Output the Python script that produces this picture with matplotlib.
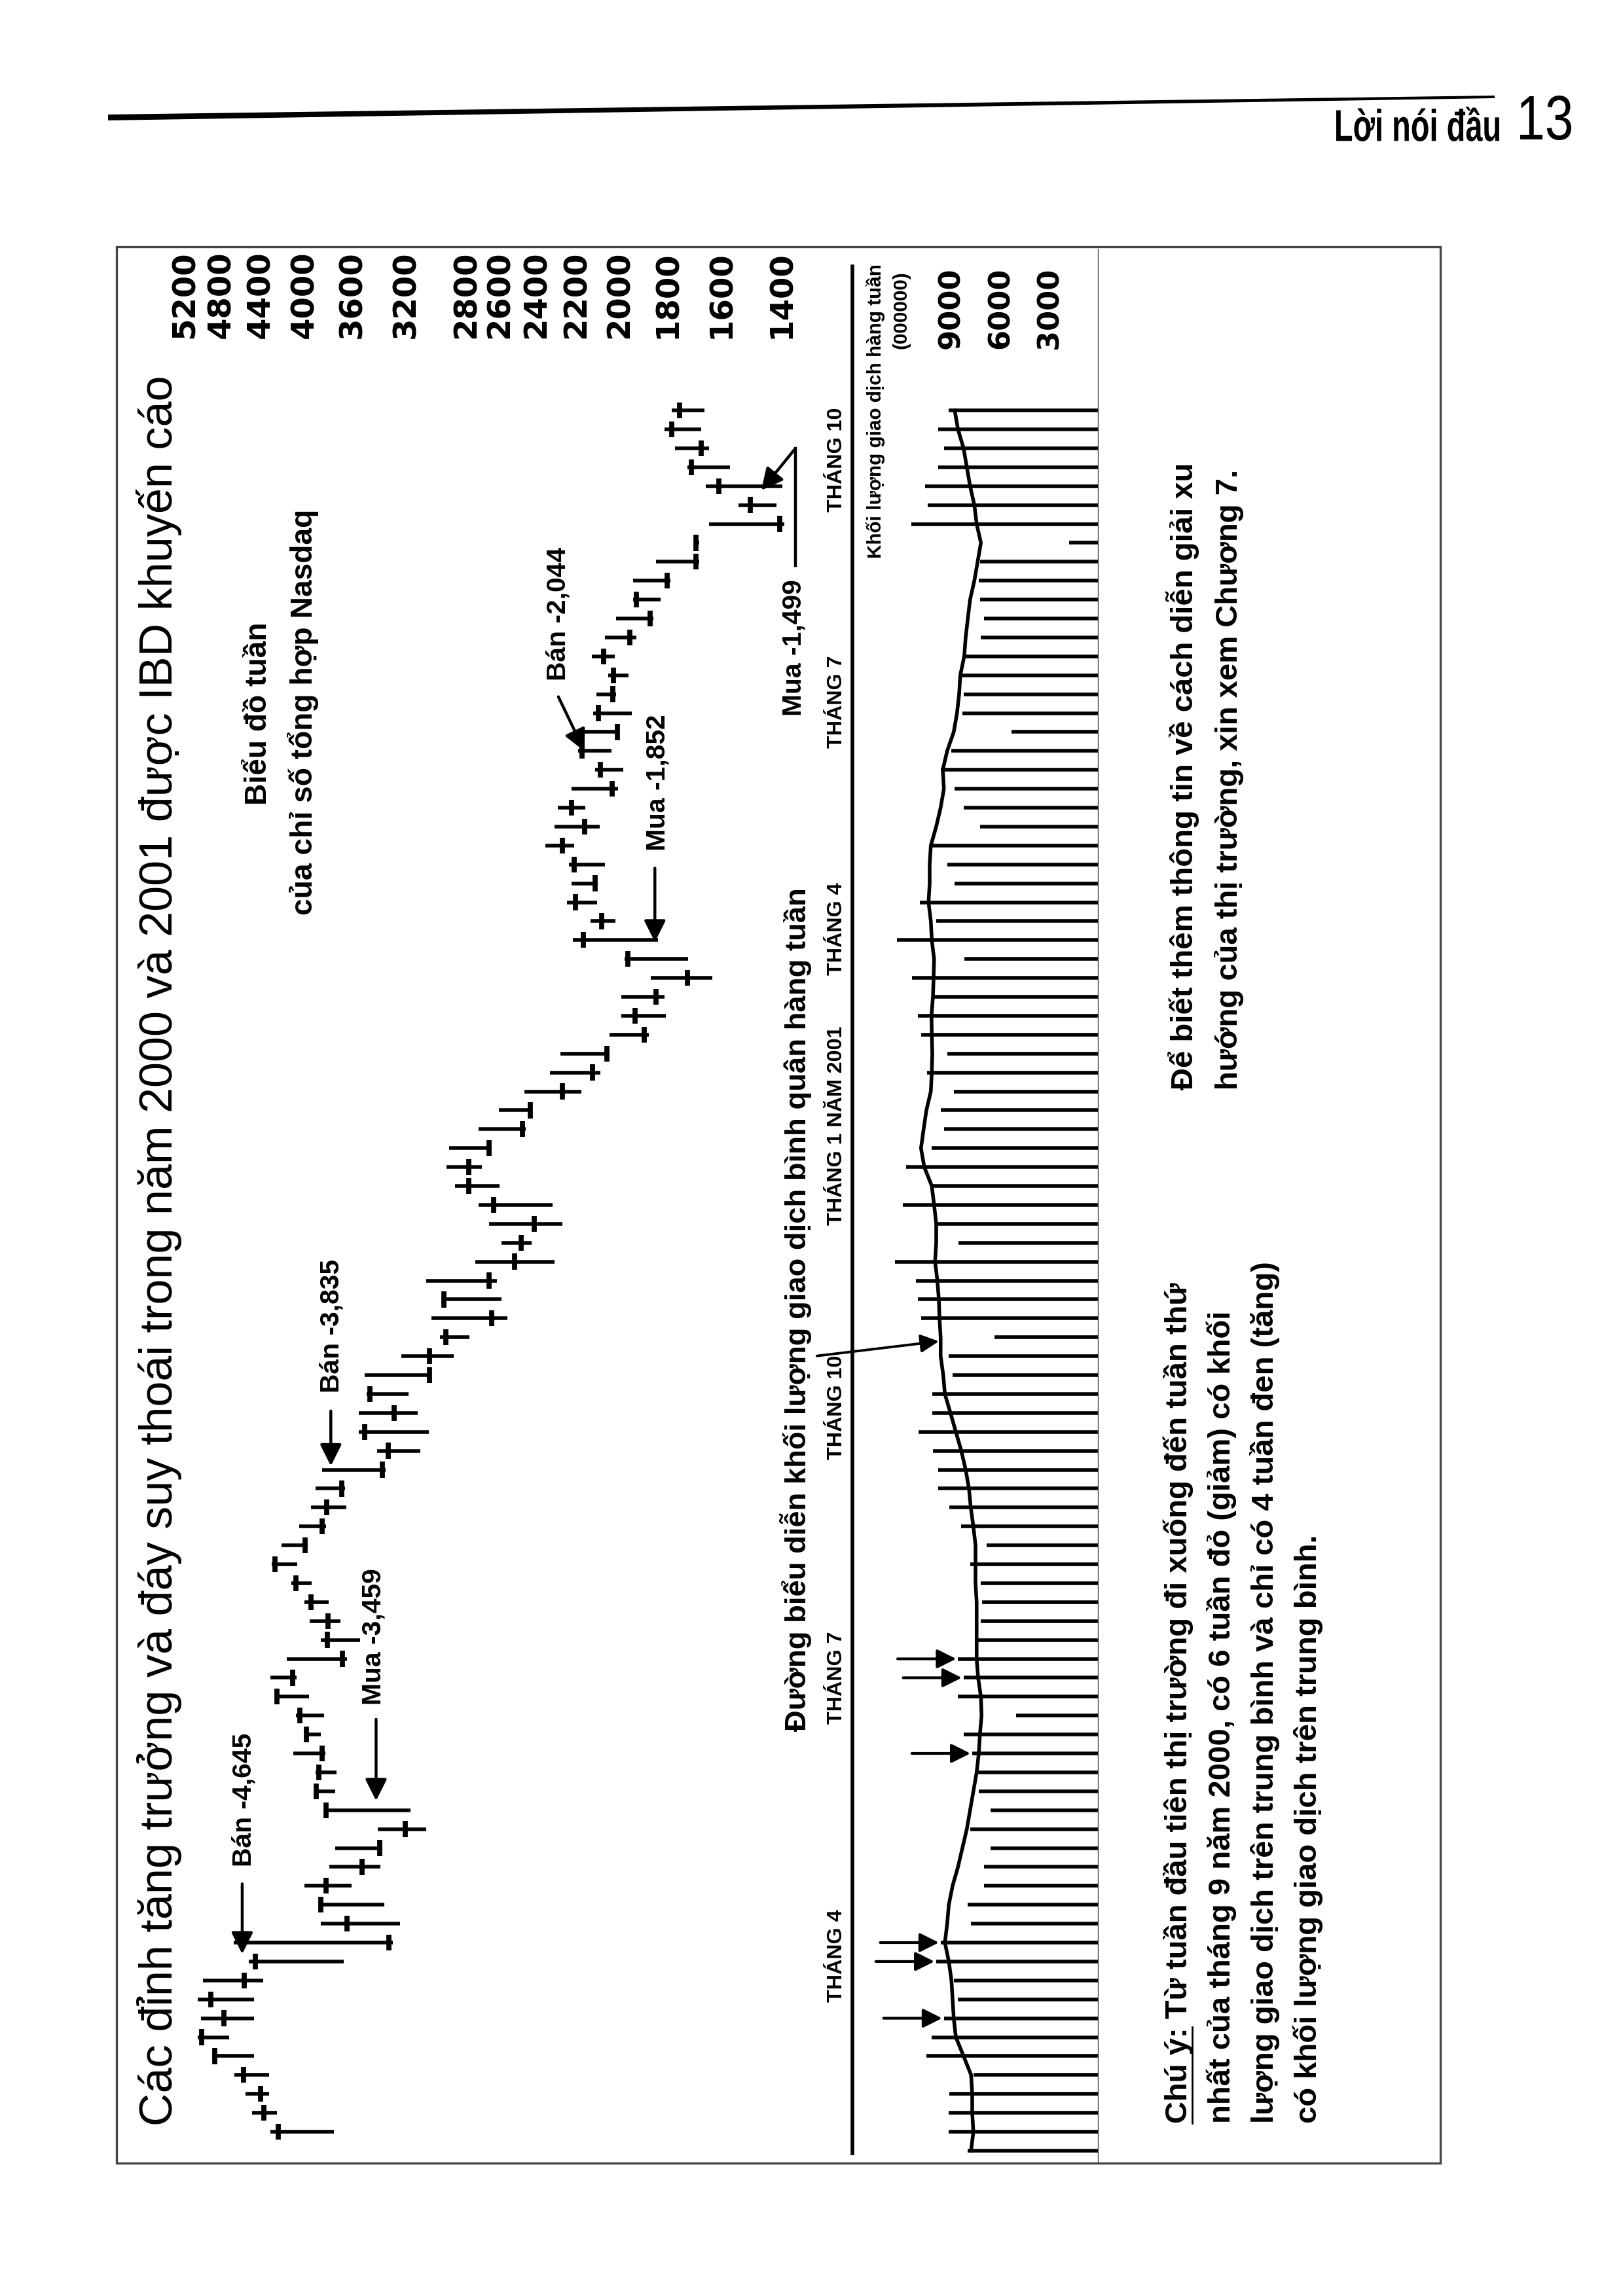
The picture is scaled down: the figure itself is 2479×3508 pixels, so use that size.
import matplotlib
matplotlib.use('Agg')
import matplotlib.pyplot as plt
import matplotlib.transforms as mtransforms
from matplotlib.patches import Rectangle, Polygon, PathPatch
from matplotlib.textpath import TextPath
from matplotlib.font_manager import FontProperties
from matplotlib import font_manager
import numpy as np

# weekly Nasdaq composite bars, first bar = week of 31 Jan 2000
highs = [4307, 4484, 4549, 4661, 4895, 5053, 5017, 5053, 4995, 4517,
         4668, 3857, 3873, 3997, 3786, 3736, 3403, 3830, 3901, 3901,
         4097, 3997, 4073, 4264, 4307, 4156, 3857, 3952, 3997, 4110,
         4295, 4204, 4044, 3940, 3901, 3846, 3408, 3548, 3548, 3488,
         3502, 3232, 2965, 3022, 2944, 3057, 2745, 2591, 2663, 2727,
         2872, 2923, 2906, 2727, 2606, 2465, 2330, 2278, 2045, 1993,
         1993, 1868, 1978, 2216, 2131, 2245, 2222, 2235, 2354, 2307,
         2290, 2222, 2110, 2190, 2190, 2119, 2104, 2051, 2126, 2065,
         2015, 1941, 1941, 1846, 1695, 1642, 1539, 1654, 1721, 1770,
         1810, 1782]
lows = [3747, 4246, 4320, 4320, 4465, 4716, 4465, 4465, 4376, 3667,
        3293, 3237, 3355, 3604, 3380, 3365, 3057, 3164, 3736, 3725,
        3818, 3857, 3830, 3958, 4068, 3641, 3538, 3694, 3791, 3935,
        4060, 3969, 3813, 3646, 3657, 3341, 3097, 3040, 3114, 3177,
        3026, 2877, 2780, 2558, 2593, 2618, 2307, 2425, 2268, 2317,
        2603, 2706, 2648, 2457, 2432, 2175, 2086, 2045, 1876, 1807,
        1810, 1630, 1719, 1838, 2018, 2101, 2101, 2065, 2209, 2089,
        2156, 2007, 1984, 2036, 1999, 1945, 2015, 1959, 2021, 1928,
        1855, 1828, 1789, 1677, 1677, 1392, 1416, 1398, 1568, 1642,
        1670, 1660]
closes = [4234, 4370, 4400, 4569, 4864, 5010, 4770, 4909, 4562, 4452,
          3317, 3641, 3857, 3813, 3523, 3389, 3200, 3813, 3896, 3873,
          3846, 3980, 4038, 4246, 4103, 3678, 3802, 3797, 3940, 4070,
          4264, 3990, 3846, 3807, 3684, 3365, 3322, 3502, 3280, 3463,
          3035, 3035, 2927, 2648, 2940, 2663, 2518, 2481, 2410, 2637,
          2784, 2784, 2663, 2474, 2433, 2268, 2122, 2057, 1895, 1933,
          1845, 1721, 1964, 2165, 2080, 2203, 2110, 2209, 2268, 2159,
          2222, 2033, 2086, 2170, 2008, 2095, 2030, 2027, 2071, 1956,
          1869, 1928, 1802, 1690, 1690, 1406, 1499, 1607, 1707, 1672,
          1782, 1751]

# weekly volume (000000), starts one week before the first price bar
volumes = [7990, 9150, 9150, 9120, 7650, 10520, 10190, 9450, 8590, 8850,
           9920, 9650, 7790, 7990, 6990, 6990, 6610, 7850, 6610, 7320,
           7390, 7720, 8250, 5050, 8590, 8250, 8590, 7520, 7190, 7120,
           7190, 7850, 6850, 8390, 9120, 9790, 9810, 10120, 11010, 10160,
           10160, 8920, 9150, 6350, 10850, 11050, 11150, 12430, 8560, 9920,
           11950, 10250, 11750, 10190, 9450, 9650, 8850, 10480, 9250, 10850,
           11050, 10050, 11390, 8220, 12320, 9920, 10920, 8790, 9250, 10250,
           7250, 8250, 8790, 9650, 8990, 5320, 8320, 8250, 8390, 8120,
           7190, 6990, 7250, 7320, 7250, 1790, 11450, 10450, 10610, 9790,
           9450, 9790, 9150]
avg_volume = [7790, 7650, 7720, 7720, 7790, 8250, 8720, 8850, 8920, 8990,
              9150, 9390, 9250, 9150, 8920, 8590, 8320, 8050, 7850, 7650,
              7450, 7320, 7250, 7150, 7190, 7360, 7450, 7450, 7450, 7450,
              7520, 7520, 7520, 7650, 7810, 7920, 8120, 8390, 8720, 9050,
              9390, 9490, 9650, 9650, 9720, 9760, 9850, 9990, 9920, 9920,
              10050, 10190, 10650, 10850, 10690, 10520, 10250, 10190, 10160, 10190,
              10210, 10120, 10080, 10050, 10190, 10250, 10390, 10320, 10320, 10250,
              9920, 9650, 9450, 9520, 9250, 8850, 8650, 8520, 8450, 8210,
              8120, 7990, 7850, 7590, 7390, 7190, 7450, 7590, 7850, 8050,
              8250, 8590, 8790]

price_ticks = [5200, 4800, 4400, 4000, 3600, 3200, 2800, 2600, 2400, 2200,
               2000, 1800, 1600, 1400]
volume_ticks = [9000, 6000, 3000]

month_labels = ['THÁNG 4', 'THÁNG 7', 'THÁNG 10', 'THÁNG 1 NĂM 2001',
                'THÁNG 4', 'THÁNG 7', 'THÁNG 10']
month_weeks = [9.3, 24.0, 38.3, 53.2, 63.6, 75.6, 88.4]

# down weeks on above-average volume (marked with arrows)
flagged_weeks = [6, 9, 10, 20, 24, 25]

title = 'Các đỉnh tăng trưởng và đáy suy thoái trong năm 2000 và 2001 được IBD khuyến cáo'
subtitle = ['Biểu đồ tuần', 'của chỉ số tổng hợp Nasdaq']
signal_labels = ['Bán -4,645', 'Mua -3,459', 'Bán -3,835', 'Mua -1,852',
                 'Bán -2,044', 'Mua -1,499']
note_1 = ['Chú ý: Từ tuần đầu tiên thị trường đi xuống đến tuần thứ',
          'nhất của tháng 9 năm 2000, có 6 tuần đỏ (giảm) có khối',
          'lượng giao dịch trên trung bình và chỉ có 4 tuần đen (tăng)',
          'có khối lượng giao dịch trên trung bình.']
note_2 = ['Để biết thêm thông tin về cách diễn giải xu',
          'hướng của thị trường, xin xem Chương 7.']

names = {f.name for f in font_manager.fontManager.ttflist}
NARROW = 'Liberation Sans Narrow' if 'Liberation Sans Narrow' in names else 'Liberation Sans'
SANS = 'Liberation Sans'

W, H = 2479, 3508
fig = plt.figure(figsize=(W / 100, H / 100), dpi=100)
fig.patch.set_facecolor('white')
renderer = fig.canvas.get_renderer()

# page axes in pixel units, for frame and text layout
page = fig.add_axes([0, 0, 1, 1])
page.set_xlim(0, W)
page.set_ylim(H, 0)
page.axis('off')


def rect(x0, y0, x1, y1):
    return [x0 / W, 1 - y1 / H, (x1 - x0) / W, (y1 - y0) / H]


def fit(t, length, vertical=True):
    bb = t.get_window_extent(renderer)
    cur = bb.height if vertical else bb.width
    t.set_fontsize(t.get_fontsize() * length / cur)
    return t.get_fontsize()


def vtext(x, y, s, size=20, ha='left', **kw):
    # text rotated to read bottom -> top, anchored at its start (or centre)
    kw.setdefault('family', SANS)
    return page.text(x, y, s, rotation=90, rotation_mode='anchor',
                     ha=ha, va='center', fontsize=size, color='black', **kw)


def squeezed(s, x0, y0, x1, y1, weight='normal'):
    # horizontal text squeezed into a pixel box (condensed header face)
    tp = TextPath((0, 0), s, size=100, prop=FontProperties(family=SANS, weight=weight))
    ext = tp.get_extents()
    tr = (mtransforms.Affine2D().translate(-ext.x0, -ext.y0)
          .scale((x1 - x0) / ext.width, -(y1 - y0) / ext.height)
          .translate(x0, y1))
    page.add_patch(PathPatch(tr.transform_path(tp), color='black', lw=0))


# week index -> page y: 3257 - 28.9 * week
y_lo = (3257 - 3305) / 28.9
y_hi = (3257 - 380) / 28.9

ax_p = fig.add_axes(rect(182, 380, 1302, 3305))
ax_p.set_xscale('log')
ax_p.set_xlim(5200 * np.exp(100 / 695), 5200 * np.exp(-1020 / 695))
ax_p.set_ylim(y_lo, y_hi)
ax_p.axis('off')

ax_v = fig.add_axes(rect(1302, 380, 1678, 3305))
ax_v.set_xlim((1678 - 1302) * 40, 0)
ax_v.set_ylim(y_lo, y_hi)
ax_v.axis('off')

# price bars
weeks = np.arange(len(highs))
ax_p.hlines(weeks, lows, highs, color='black', lw=4.0)
ax_p.vlines(closes, weeks - 0.42, weeks + 0.42, color='black', lw=5.6)

# volume bars and average line
vweeks = np.arange(-1, len(volumes) - 1)
ax_v.hlines(vweeks, 0, volumes, color='black', lw=4.0)
ax_v.plot(avg_volume, vweeks, color='black', lw=4.0)
ax_v.axvline(0, color='#333333', lw=2.4)
for w in flagged_weeks:
    v = volumes[w + 1]
    ax_v.annotate('', xy=(v, w), xytext=(v + 3800, w),
                  arrowprops=dict(arrowstyle='-|>', color='black', lw=3,
                                  mutation_scale=44))

# signal arrows
arrow_kw = dict(arrowstyle='-|>', color='black', lw=3.2, mutation_scale=50)
ax_p.annotate('', xy=(4582, 9.3), xytext=(4582, 13.2), arrowprops=arrow_kw)
ax_p.annotate('', xy=(3414, 17.4), xytext=(3414, 21.9), arrowprops=arrow_kw)
ax_p.annotate('', xy=(3771, 35.1), xytext=(3771, 38.2), arrowprops=arrow_kw)
ax_p.annotate('', xy=(1850, 62.8), xytext=(1850, 66.9), arrowprops=arrow_kw)
ax_p.annotate('', xy=(2156, 72.9), xytext=(2291, 75.95), arrowprops=arrow_kw)
ax_p.plot([1358, 1358], [82.8, 89.0], color='black', lw=3.2)
ax_p.annotate('', xy=(1468, 86.7), xytext=(1358, 89.0), arrowprops=arrow_kw)

# frame and panel divider
page.add_patch(Rectangle((178, 377), 2022, 2928, fill=False, lw=2.4, ec='#444444'))
page.plot([1302, 1302], [407, 3290], color='black', lw=4)

# header
page.add_patch(Polygon([(165, 175), (2283, 146), (2283, 150), (165, 184)],
                       closed=True, color='black', lw=0))
squeezed('Lời nói đầu', 2041, 163, 2290, 216, weight='bold')
squeezed('13', 2322, 146, 2400, 214)

# title and subtitle
t = vtext(243, 3248, title, size=40)
fit(t, 2670)
t = vtext(463, 1088, subtitle[1], size=28, ha='center', fontweight='bold')
s = fit(t, 620)
vtext(395, 1090, subtitle[0], size=s, ha='center', fontweight='bold')

# price scale labels
p_trans = mtransforms.blended_transform_factory(ax_p.transData, page.transData)
for p in price_ticks:
    t = page.text(p, 517, str(p), transform=p_trans, rotation=90,
                  rotation_mode='anchor', ha='left', va='center',
                  fontsize=35, fontweight='bold', family='DejaVu Sans')
    if p == 5200:
        ps = fit(t, 134)
    else:
        t.set_fontsize(ps)

v_trans = mtransforms.blended_transform_factory(ax_v.transData, page.transData)
for v in volume_ticks:
    page.text(v, 533, str(v), transform=v_trans, rotation=90,
              rotation_mode='anchor', ha='left', va='center',
              fontsize=ps * 0.93, fontweight='bold', family='DejaVu Sans')

t = vtext(1337, 853, 'Khối lượng giao dịch hàng tuần', size=12, fontweight='bold',
          family=NARROW)
ks = fit(t, 446)
vtext(1377, 533, '(000000)', size=ks, fontweight='bold', family=NARROW)

# signal labels
signal_pos = [(372, 2852), (571, 2605), (507, 2128), (1004, 1300),
              (852, 1040), (1212, 1094)]
for i, (lab, (x, y)) in enumerate(zip(signal_labels, signal_pos)):
    t = vtext(x, y, lab, size=20, fontweight='bold', family=NARROW)
    if i == 0:
        ss = fit(t, 204)
    else:
        t.set_fontsize(ss)

# month labels along the bottom of the price panel
m_trans = mtransforms.blended_transform_factory(page.transData, ax_p.transData)
for i, (lab, w) in enumerate(zip(month_labels, month_weeks)):
    t = page.text(1278, w, lab, transform=m_trans, rotation=90,
                  rotation_mode='anchor', ha='center', va='center',
                  fontsize=16, fontweight='bold', family=NARROW)
    if i == 2:
        ms = fit(t, 160)
for t in page.texts:
    if t.get_text() in month_labels:
        t.set_fontsize(ms)

# average-volume caption with arrow
t = vtext(1215, 2645, 'Đường biểu diễn khối lượng giao dịch bình quân hàng tuần',
          size=24, fontweight='bold')
fit(t, 1290)
page.annotate('', xy=(avg_volume[43], 41.8), xycoords=ax_v.transData,
              xytext=(1245, 2072), textcoords=page.transData,
              arrowprops=dict(arrowstyle='-|>', color='black', lw=2.8,
                              mutation_scale=42))

# notes
note_x = [1800, 1866, 1932, 1998]
t = vtext(note_x[0], 3244, note_1[0], size=24, fontweight='bold')
ns = fit(t, 1290)
for x, line in zip(note_x[1:], note_1[1:]):
    vtext(x, 3244, line, size=ns, fontweight='bold')
for x, line in zip([1807, 1877], note_2):
    vtext(x, 1665, line, size=ns, fontweight='bold')

# underline of "Chú ý:"
t = vtext(note_x[0], 3244, 'Chú ý:', size=ns, fontweight='bold', alpha=0)
bb = t.get_window_extent(renderer)
ux = note_x[0] + 0.45 * ns * 100 / 72
page.plot([ux, ux], [3244, 3244 - bb.height], color='black', lw=2)

fig.savefig('out.png', dpi=100, facecolor='white')
